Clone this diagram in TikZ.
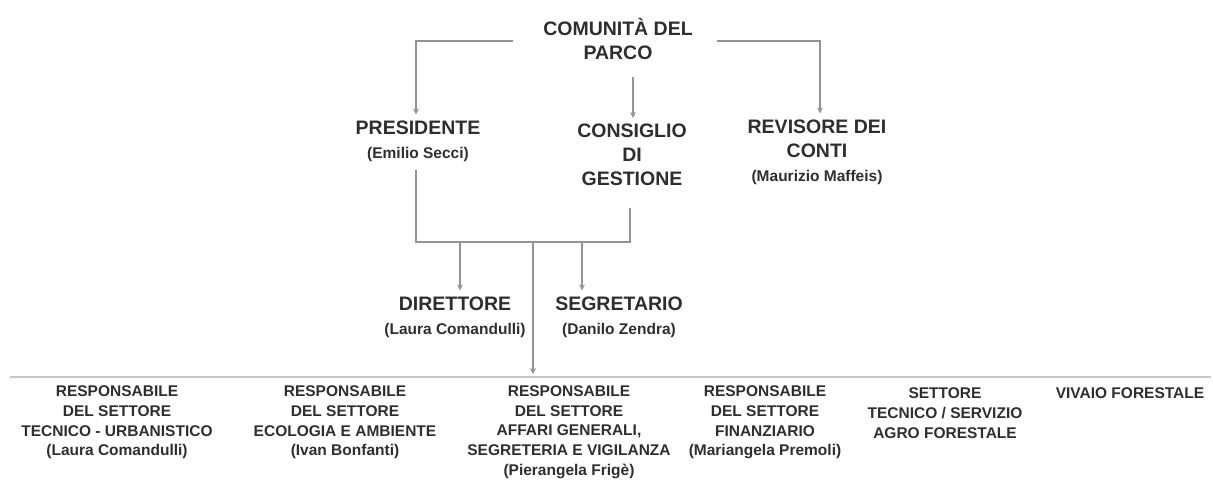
\documentclass[tikz,border=0pt]{standalone}
\usepackage{fontspec}
\setmainfont{Liberation Sans}
\usetikzlibrary{arrows.meta,calc}
\newcommand{\bigf}{\fontsize{19.5}{24}\selectfont\bfseries}
\newcommand{\smf}{\fontsize{15.5}{19.7}\selectfont\bfseries}
\tikzset{
  t/.style={align=center,inner sep=0pt,text=black!82},
  tb/.style={t,font=\bigf},
  ts/.style={t,font=\smf},
  conn/.style={draw=black!42,line width=1.6pt},
  arr/.style={conn,-{Stealth[length=6pt,width=6pt]}},
}
\begin{document}
\begin{tikzpicture}[x=1pt,y=-1pt]
\useasboundingbox (0,0) rectangle (1213,485);
% top level
\node[tb] (com) at (618,38.5) {COMUNITÀ DEL\\PARCO};
\node[tb] (pres) at (418,141) {PRESIDENTE\\{\smf(Emilio Secci)}};
\node[tb] (cons) at (632,155) {CONSIGLIO\\DI\\GESTIONE};
\node[tb] (rev) at (817,152) {REVISORE DEI\\CONTI\\{\smf(Maurizio Maffeis)}};
\node[tb] (dir) at (455,317) {DIRETTORE\\{\smf(Laura Comandulli)}};
\node[tb] (seg) at (619,317) {SEGRETARIO\\{\smf(Danilo Zendra)}};
% bottom row
\node[ts] (r1) at (117,422.5) {RESPONSABILE\\DEL SETTORE\\TECNICO - URBANISTICO\\(Laura Comandulli)};
\node[ts] (r2) at (345,422.5) {RESPONSABILE\\DEL SETTORE\\ECOLOGIA E AMBIENTE\\(Ivan Bonfanti)};
\node[ts] (r3) at (569,432) {RESPONSABILE\\DEL SETTORE\\AFFARI GENERALI,\\SEGRETERIA E VIGILANZA\\(Pierangela Frigè)};
\node[ts] (r4) at (765,422.5) {RESPONSABILE\\DEL SETTORE\\FINANZIARIO\\(Mariangela Premoli)};
\node[ts] (r5) at (945,413) {SETTORE\\TECNICO / SERVIZIO\\AGRO FORESTALE};
\node[ts] (r6) at (1130,393) {VIVAIO FORESTALE};
% coordinates
\coordinate (cl) at (513,41);
\coordinate (cr) at (717,41);
\coordinate (cm) at (633,77);
\coordinate (jl) at (416,242);
\coordinate (jr) at (630,242);
\coordinate (jm) at (533,242);
\coordinate (ad) at (460,242);
\coordinate (as) at (582,242);
\coordinate (bm) at (533,374);
\coordinate (bl) at (10,377);
\coordinate (br) at (1211,377);
% connectors
\draw[arr] (cl) -| ($(pres.north)+(-2,-6)$);
\draw[arr] (cr) -| ($(rev.north)+(3,-6)$);
\draw[arr] (cm) -- ($(cons.north)+(1,-6)$);
\draw[conn] ($(pres.south)+(-2,8)$) |- (jr) -- ($(cons.south)+(-2,22)$);
\draw[arr] (ad) -- ($(ad |- dir.north)+(0,-6)$);
\draw[arr] (as) -- ($(as |- seg.north)+(0,-6)$);
\draw[arr] (jm) -- (bm);
\draw[draw=black!22,line width=2pt] (bl) -- (br);
\end{tikzpicture}
\end{document}
